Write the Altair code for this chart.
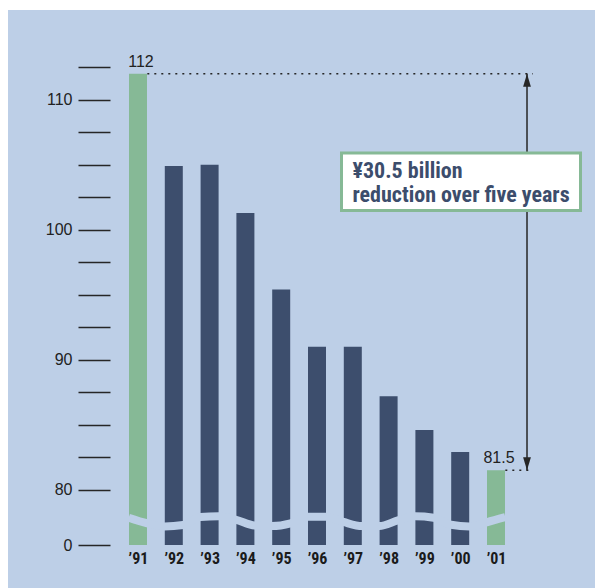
import altair as alt
import pandas as pd

# ---- data -------------------------------------------------------------
YEARS = ["’91", "’92", "’93", "’94", "’95", "’96", "’97", "’98", "’99", "’00", "’01"]
VALUES = [112.0, 104.9, 105.0, 101.3, 95.4, 91.0, 91.0, 87.2, 84.6, 82.9, 81.5]
HIGHLIGHT = [True, False, False, False, False, False, False, False, False, False, True]

# level of the wavy axis-break band at the left / right edge of every bar
BREAK_LEFT = [77.85, 77.18, 77.90, 77.69, 77.21, 77.92, 77.52, 77.21, 77.96, 77.31, 77.50]
BREAK_RIGHT = [77.42, 77.29, 77.97, 77.25, 77.42, 77.92, 77.21, 77.64, 77.85, 77.18, 77.89]

Y_TICKS = [80.0, 82.5, 85.0, 87.5, 90.0, 92.5, 95.0, 97.5, 100.0, 102.5, 105.0, 107.5, 110.0, 112.5]

# ---- layout / style ----------------------------------------------------
W_TOTAL, H_TOTAL = 595, 588
PAD_L, PAD_T = 110, 40
PLOT_W, PLOT_H = 414, 505
BASE = 75.75          # bottom of the broken axis, labelled "0"
Y_MAX = 114.6
X_MIN, X_MAX = -0.782, 10.782
ARROW_X = 10.866
DOT_END = 11.03
HALF_BAR = 0.26

BG = "#bdcfe7"
NAVY = "#3d4e6d"
GREEN = "#86b996"
INK = "#262626"
BOX_TEXT = "#3c4d6c"
NARROW = "Liberation Sans Narrow, Roboto Condensed, Liberation Sans, sans-serif"
REGULAR = "Liberation Sans, Arial, sans-serif"

bars_df = pd.DataFrame({
    "idx": list(range(len(YEARS))),
    "year": YEARS,
    "v": VALUES,
    "group": ["end" if h else "mid" for h in HIGHLIGHT],
})

break_rows = []
for i, (lv, rv) in enumerate(zip(BREAK_LEFT, BREAK_RIGHT)):
    break_rows.append({"idx": i - HALF_BAR, "v": lv})
    break_rows.append({"idx": i + HALF_BAR, "v": rv})
break_df = pd.DataFrame(break_rows)

first, last = VALUES[0], VALUES[-1]
levels_df = pd.DataFrame({
    "v": [first, last],
    "x0": [0 + HALF_BAR, len(YEARS) - 1 + HALF_BAR],
    "x1": [DOT_END, DOT_END],
})
arrow_df = pd.DataFrame({"x": [ARROW_X], "top": [first], "bot": [last]})
ends_df = pd.DataFrame({
    "idx": [0, len(YEARS) - 1],
    "v": [first, last],
    "label": [f"{first:g}", f"{last:g}"],
})
one = pd.DataFrame({"k": [0]})

x_scale = alt.Scale(domain=[X_MIN, X_MAX], nice=False, zero=False, padding=0)
y_scale = alt.Scale(domain=[BASE, Y_MAX], nice=False, zero=False, padding=0)

year_expr = "[" + ",".join(f"'{y}'" for y in YEARS) + "][datum.value]"
y_values = [BASE] + Y_TICKS

x_axis = alt.Axis(
    values=list(range(len(YEARS))), labelExpr=year_expr, ticks=False, domain=False,
    grid=False, labelAngle=0, labelFont=NARROW, labelFontSize=16, labelFontWeight="bold",
    labelColor="#1b1b1b", labelPadding=5, labelOverlap=False, tickCount=len(YEARS) + 5, zindex=1,
)
y_axis = alt.Axis(
    values=y_values, tickCount=len(y_values) * 3,
    labelExpr="datum.value < 77 ? '0' : (datum.value % 10 == 0 ? format(datum.value, 'd') : '')",
    domain=False, grid=False, tickSize=32, tickColor=INK, tickWidth=1.3,
    labelPadding=6, labelFont=REGULAR, labelFontSize=16, labelColor="#222222",
    labelOverlap=False, zindex=1,
)

# panel background (white margin on the left and top)
panel = alt.Chart(one).mark_rect(color=BG).encode(
    x=alt.value(8 - PAD_L), x2=alt.value(W_TOTAL - PAD_L),
    y=alt.value(10 - PAD_T), y2=alt.value(H_TOTAL - PAD_T),
)

bars = alt.Chart(bars_df).mark_bar(size=18).encode(
    x=alt.X("idx:Q", scale=x_scale, axis=x_axis, title=None),
    y=alt.Y("v:Q", scale=y_scale, axis=y_axis, title=None),
    y2=alt.datum(BASE),
    color=alt.Color("group:N", scale=alt.Scale(domain=["end", "mid"], range=[GREEN, NAVY]), legend=None),
)

# wavy break cut through the bars
cut = alt.Chart(break_df).mark_line(color=BG, strokeWidth=8, interpolate="monotone").encode(
    x=alt.X("idx:Q", title=None), y=alt.Y("v:Q", title=None),
)

dotted = alt.Chart(levels_df).mark_rule(strokeDash=[2, 5], strokeWidth=1.5, color=INK).encode(
    x=alt.X("x0:Q", title=None), x2=alt.X2("x1:Q", title=None), y=alt.Y("v:Q", title=None),
)

arrow = alt.Chart(arrow_df).mark_rule(strokeWidth=1.5, color=INK).encode(
    x=alt.X("x:Q", title=None), y=alt.Y("top:Q", title=None), y2=alt.Y2("bot:Q", title=None),
)
head_up = alt.Chart(arrow_df).mark_point(
    shape="M0,-1L0.6,1L-0.6,1Z", size=169, filled=True, color=INK, opacity=1, strokeWidth=0, yOffset=6.5,
).encode(x=alt.X("x:Q", title=None), y=alt.Y("top:Q", title=None))
head_down = alt.Chart(arrow_df).mark_point(
    shape="M0,1L0.6,-1L-0.6,-1Z", size=169, filled=True, color=INK, opacity=1, strokeWidth=0, yOffset=-6.5,
).encode(x=alt.X("x:Q", title=None), y=alt.Y("bot:Q", title=None))

end_labels = alt.Chart(ends_df).mark_text(
    font=REGULAR, fontSize=16, color="#222222", baseline="bottom", align="center", dx=3, dy=-4,
).encode(x=alt.X("idx:Q", title=None), y=alt.Y("v:Q", title=None), text="label:N")

box = alt.Chart(one).mark_rect(fill="white", stroke=GREEN, strokeWidth=3).encode(
    x=alt.value(341.5 - PAD_L), x2=alt.value(580.5 - PAD_L),
    y=alt.value(153 - PAD_T), y2=alt.value(210.5 - PAD_T),
)
box_text = alt.Chart(one).mark_text(
    text=[f"¥{first - last:.1f} billion", "reduction over five years"],
    font=NARROW, fontSize=22, fontWeight="bold", color=BOX_TEXT,
    align="left", baseline="alphabetic", lineHeight=24,
).encode(x=alt.value(352.5 - PAD_L), y=alt.value(177.5 - PAD_T))

chart = alt.layer(
    panel, bars, cut, dotted, arrow, head_up, head_down, end_labels, box, box_text,
).properties(
    width=PLOT_W, height=PLOT_H,
    padding={"left": PAD_L, "top": PAD_T, "right": W_TOTAL - PAD_L - PLOT_W, "bottom": H_TOTAL - PAD_T - PLOT_H},
    autosize=alt.AutoSizeParams(type="none"),
).configure(background="white").configure_view(stroke=None)

chart.save("out.html", embed_options={"renderer": "svg", "actions": False})
